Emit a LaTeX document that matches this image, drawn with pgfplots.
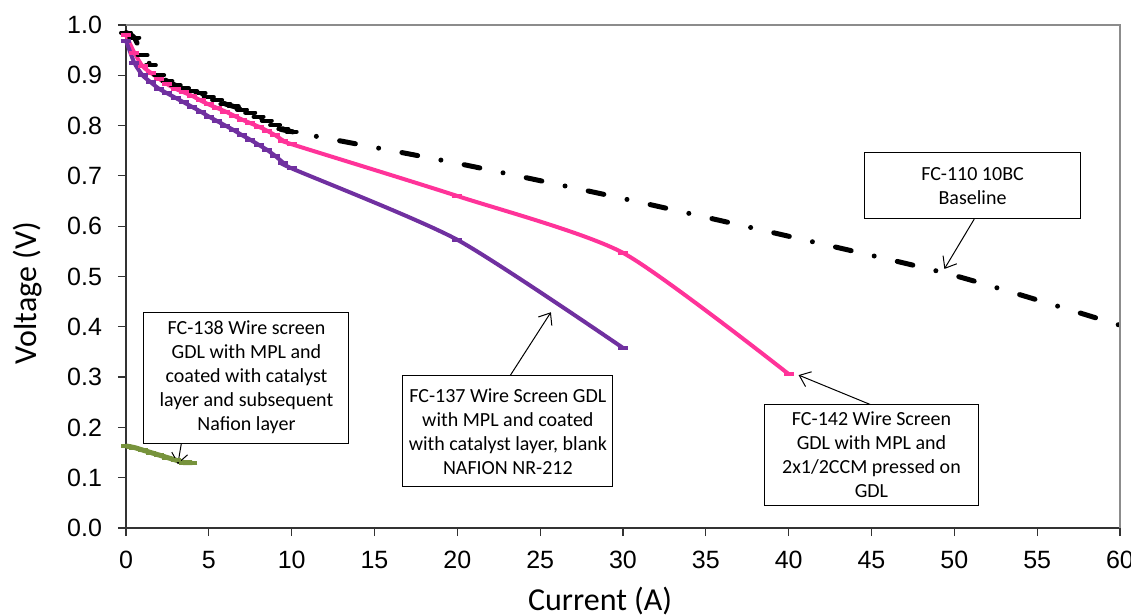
\documentclass[border=0pt]{standalone}
\usepackage{fontspec}
\setmainfont{Carlito}
\newfontfamily\arial{Liberation Sans}
\usepackage{pgfplots}
\pgfplotsset{compat=1.18}
\usetikzlibrary{arrows.meta}

\definecolor{fcpink}{RGB}{255,51,153}
\definecolor{fcpurple}{RGB}{112,48,160}
\definecolor{fcgreen}{RGB}{119,147,60}

\begin{document}
\begin{tikzpicture}
\path[use as bounding box] (-63pt,-44pt) rectangle (502.5pt,264pt);
\begin{axis}[
    at={(0,0)}, anchor=south west,
    scale only axis, width=497pt, height=251.5pt,
    xmin=0, xmax=60, ymin=0, ymax=1,
    axis x line*=bottom, axis y line*=left,
    axis line style={black!80, line width=0.8pt},
    xtick={0,5,...,60}, ytick={0,0.1,...,1.0},
    tick align=outside, major tick length=4pt,
    tick style={black!80, line width=0.6pt},
    tick label style={font=\arial\fontsize{12.5}{15}\selectfont},
    /pgf/number format/assume math mode=true,
    yticklabel style={xshift=-4.5pt, /pgf/number format/.cd, fixed, fixed zerofill, precision=1},
    xticklabel style={yshift=-4pt, /pgf/number format/.cd, fixed, precision=0},
    xlabel={Current (A)}, ylabel={Voltage (V)},
    label style={font=\fontsize{16}{19}\selectfont},
    xlabel style={at={(axis description cs:0.477,-0.145)}, anchor=center},
    ylabel style={at={(axis description cs:-0.099,0.467)}, anchor=center},
    clip=false,
    every axis plot/.append style={mark=-, mark size=2.5pt, smooth, tension=0.4},
  ]
  % FC-110 baseline
  \addplot[black, line width=2.5pt, line cap=round,
           dash pattern=on 8pt off 11.85pt on 0pt off 11.85pt,
           mark indices={1,...,21},
           mark options={solid, line width=2pt}]
  coordinates {
    (0,0.985) (0.5,0.975) (1,0.94) (1.5,0.92) (2,0.90) (2.5,0.888) (3,0.88)
    (3.5,0.874) (4,0.868) (4.5,0.864) (5,0.857) (5.5,0.851) (6,0.843)
    (6.5,0.838) (7,0.832) (7.5,0.826) (8,0.818) (8.5,0.81) (9,0.801)
    (9.5,0.793) (10,0.788) (20,0.725) (30,0.655) (40,0.58) (50,0.502) (60,0.403)
  };
  % FC-142
  \addplot[fcpink, line width=2pt, mark options={solid}]
  coordinates {
    (0,0.98) (0.5,0.945) (1,0.918) (1.5,0.905) (2,0.893) (2.5,0.882)
    (3,0.873) (3.5,0.866) (4,0.859) (4.5,0.85) (5,0.842) (5.5,0.835)
    (6,0.828) (6.5,0.82) (7,0.812) (7.5,0.805) (8,0.798) (8.5,0.79)
    (9,0.781) (9.5,0.77) (10,0.763) (20,0.66) (30,0.547) (40,0.306)
  };
  % FC-137
  \addplot[fcpurple, line width=2pt, mark options={solid}]
  coordinates {
    (0,0.969) (0.5,0.925) (1,0.90) (1.5,0.886) (2,0.873) (2.5,0.864)
    (3,0.855) (3.5,0.846) (4,0.837) (4.5,0.828) (5,0.818) (5.5,0.809)
    (6,0.80) (6.5,0.791) (7,0.781) (7.5,0.772) (8,0.762) (8.5,0.752)
    (9,0.74) (9.5,0.726) (10,0.715) (20,0.573) (30,0.358)
  };
  % FC-138
  \addplot[fcgreen, line width=2.5pt, mark options={solid, line width=2pt}]
  coordinates {
    (0,0.163) (0.5,0.16) (1,0.155) (1.5,0.15) (2,0.145) (2.5,0.14)
    (3,0.135) (3.5,0.13) (4,0.13)
  };

  % frame top and right
  \draw[black!45, line width=0.6pt] (rel axis cs:0,1) -- (rel axis cs:1,1) -- (rel axis cs:1,0);

  % annotations
  \tikzset{callout/.style={draw=black, line width=0.5pt, fill=white, align=center,
      inner sep=1pt, font=\fontsize{10}{12}\selectfont},
    pointer/.style={black, line width=0.5pt, -{Straight Barb[length=5pt,width=8pt]}}}
  \draw[pointer] (axis cs:51.2,0.614) -- (axis cs:49.4,0.515);
  \draw[pointer] (axis cs:45.0,0.2445) -- (axis cs:40.6,0.304);
  \draw[pointer] (axis cs:23.17,0.302) -- (axis cs:25.65,0.429);
  \draw[pointer] (axis cs:3.5,0.199) -- (axis cs:3.13,0.127);
  \node[callout, minimum width=108pt, minimum height=33pt] at (axis cs:51.1,0.680)
    {FC-110 10BC\\Baseline};
  \node[callout, minimum width=107pt, minimum height=50.5pt] at (axis cs:45.0,0.145)
    {FC-142 Wire Screen\\GDL with MPL and\\2x1/2CCM pressed on\\GDL};
  \node[callout, minimum width=105pt, minimum height=55.5pt] at (axis cs:23.05,0.192)
    {FC-137 Wire Screen GDL\\with MPL and coated\\with catalyst layer, blank\\NAFION NR-212};
  \node[callout, minimum width=102.5pt, minimum height=65.5pt] at (axis cs:7.27,0.299)
    {FC-138 Wire screen\\GDL with MPL and\\coated with catalyst\\layer and subsequent\\Nafion layer};
\end{axis}
\end{tikzpicture}
\end{document}
